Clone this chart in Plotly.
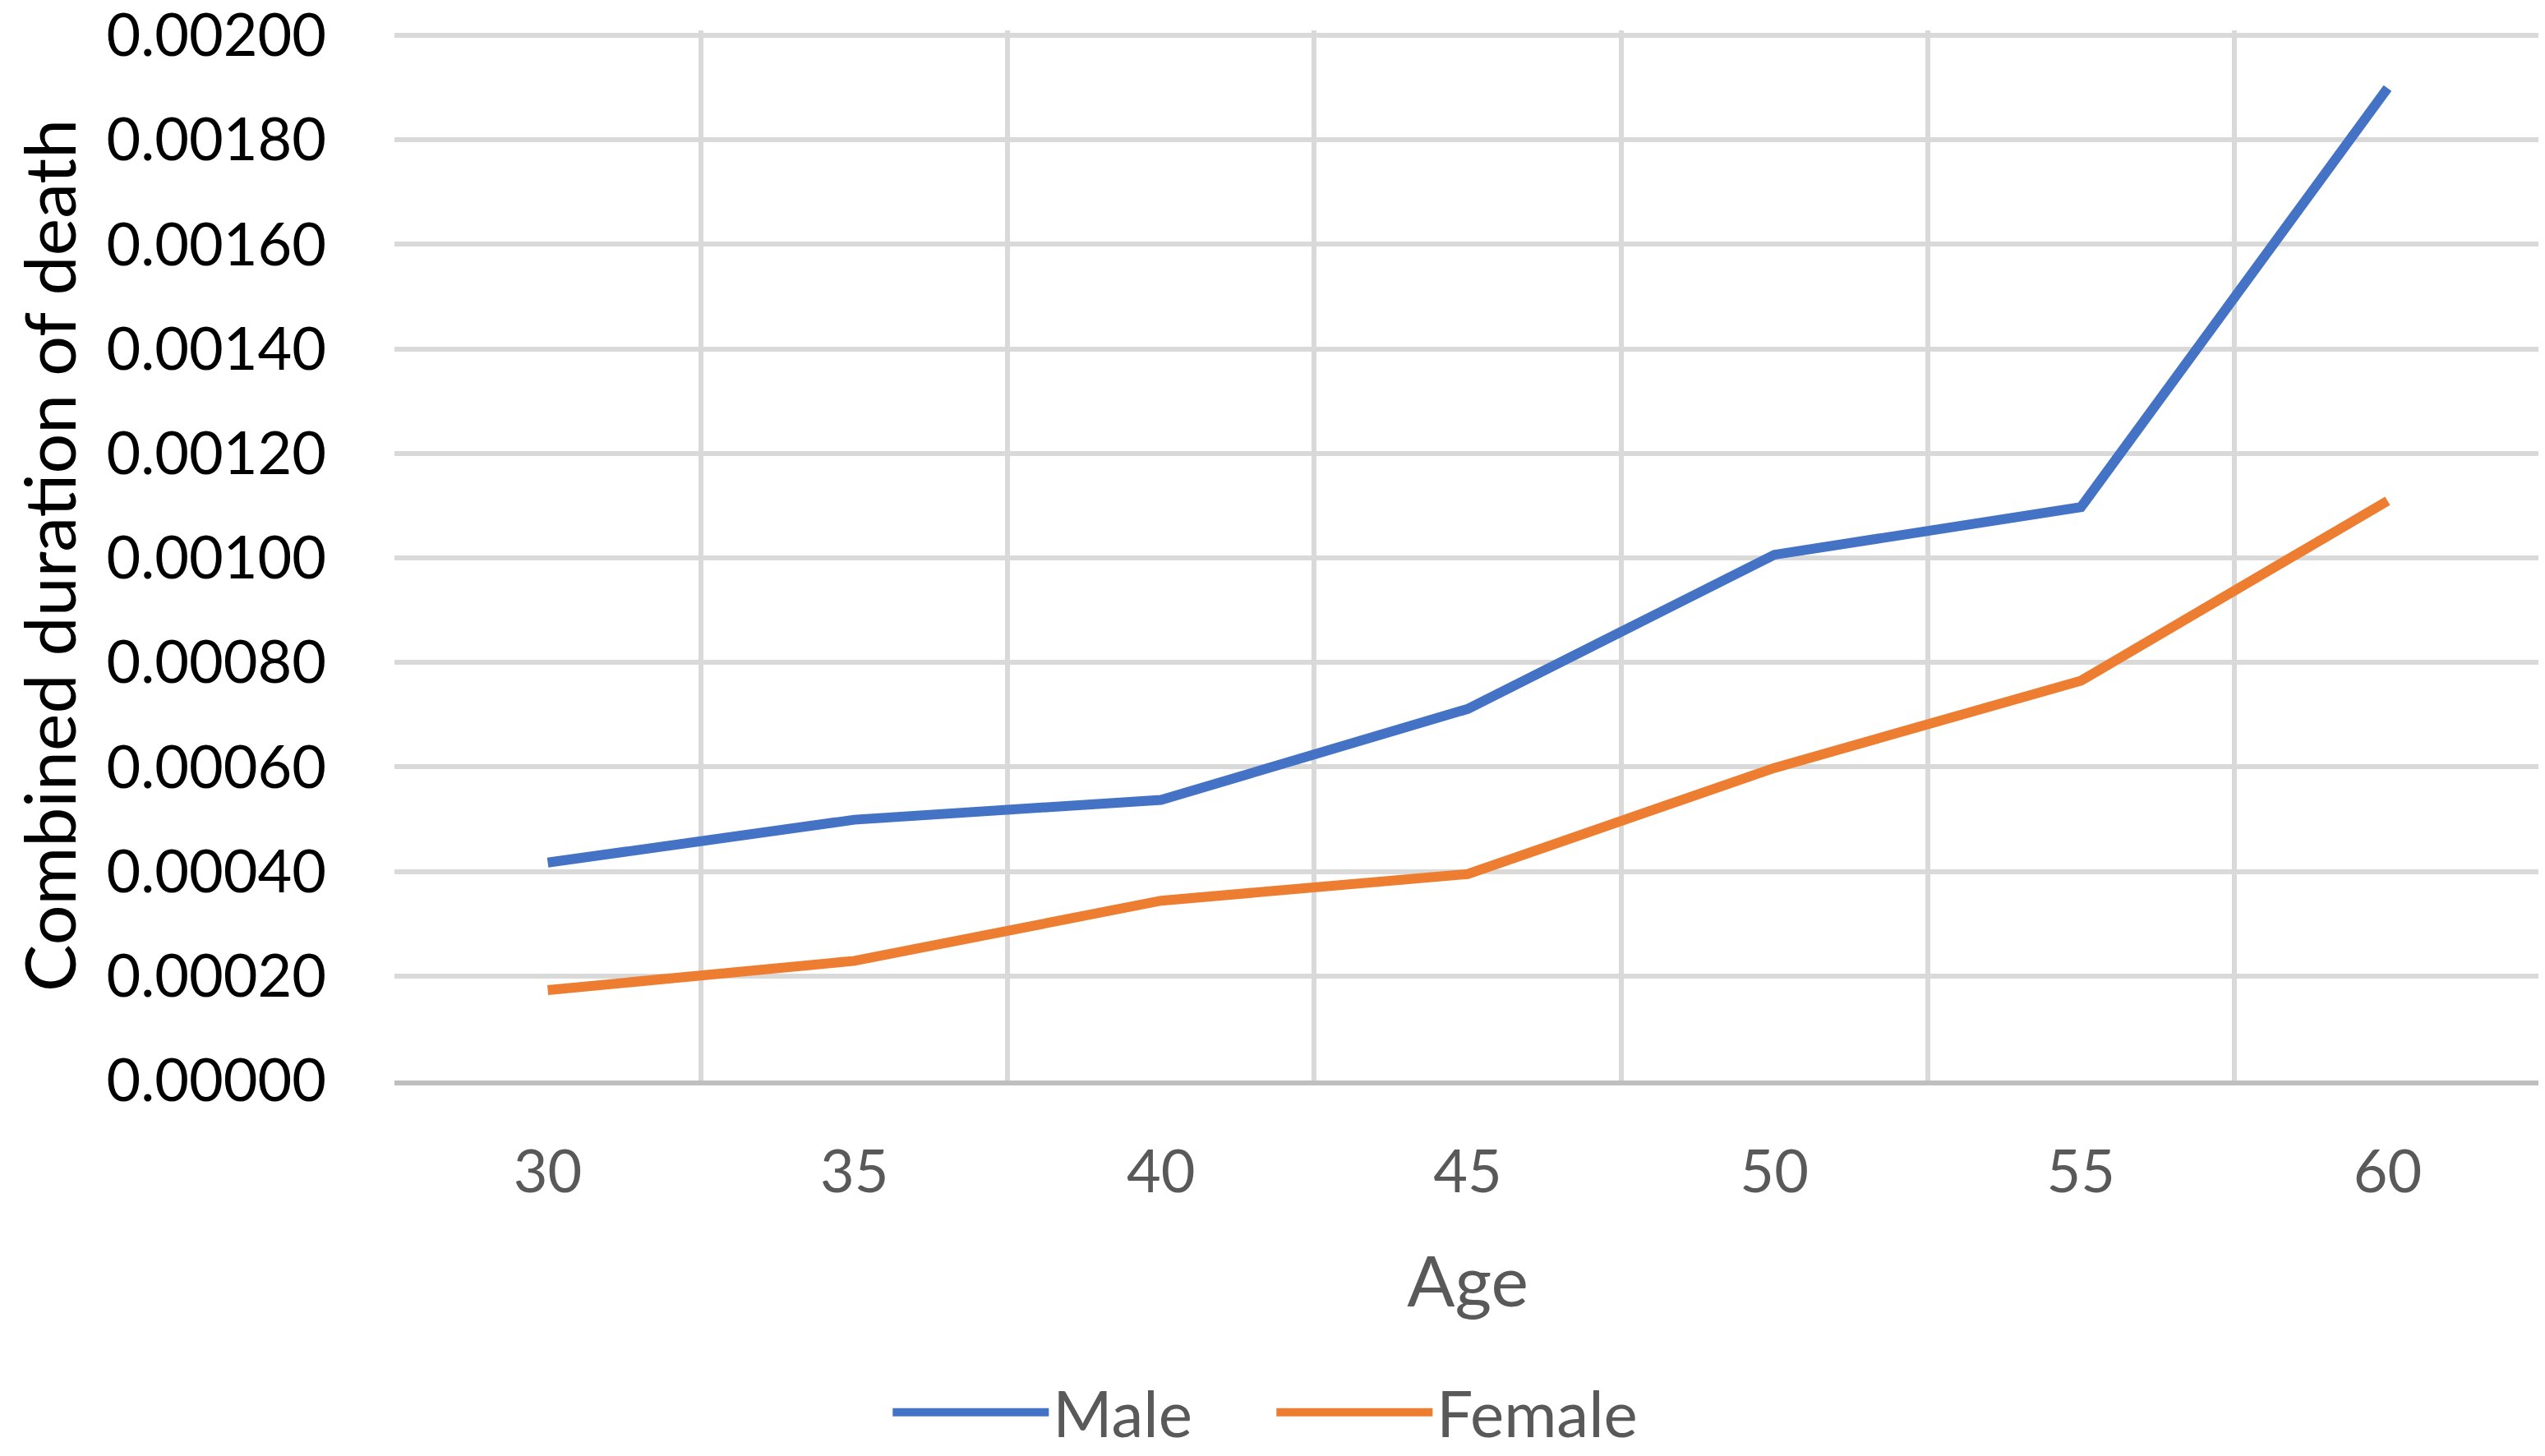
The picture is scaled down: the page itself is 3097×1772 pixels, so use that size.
import plotly.graph_objects as go

ages = ["30", "35", "40", "45", "50", "55", "60"]
male = [0.000417, 0.000499, 0.000537, 0.000711, 0.001006, 0.001097, 0.001899]
female = [0.000173, 0.000229, 0.000344, 0.000395, 0.000598, 0.000765, 0.001109]
y_ticks = [0.0, 0.0002, 0.0004, 0.0006, 0.0008, 0.0010, 0.0012, 0.0014, 0.0016, 0.0018, 0.0020]
y_tick_text = ["0.00000", "0.00020", "0.00040", "0.00060", "0.00080", "0.00100",
               "0.00120", "0.00140", "0.00160", "0.00180", "0.00200"]

FONT = "Lato"
fig = go.Figure()
fig.add_trace(go.Scatter(x=ages, y=male, mode="lines", name="Male",
                         line=dict(color="#4472C4", width=12)))
fig.add_trace(go.Scatter(x=ages, y=female, mode="lines", name="Female",
                         line=dict(color="#ED7D31", width=12)))

fig.update_layout(
    width=3089, height=1764,
    margin=dict(l=472, r=5, t=29, b=457, autoexpand=False),
    paper_bgcolor="white", plot_bgcolor="white",
    font=dict(family=FONT, color="#595959"),
    showlegend=True,
    legend=dict(orientation="h", x=0.409, xanchor="center", y=-0.3162, yanchor="middle",
                font=dict(size=78, color="#595959"), itemwidth=190,
                entrywidth=262, entrywidthmode="pixels"),
    xaxis=dict(type="category", categoryorder="array", categoryarray=ages,
               range=[-0.5, 6.5], tickson="boundaries", ticks="", automargin=False,
               showgrid=True, gridcolor="#D9D9D9", gridwidth=6,
               showline=True, linecolor="#BFBFBF", linewidth=6,
               tickfont=dict(size=72, color="#595959", family=FONT),
               ticklabelstandoff=44,
               title=dict(text="Age", font=dict(size=86, color="#595959", family=FONT), standoff=66)),
    yaxis=dict(range=[0, 0.0020094], tickmode="array", tickvals=y_ticks, ticktext=y_tick_text,
               showgrid=True, gridcolor="#D9D9D9", gridwidth=6, zeroline=False,
               showline=False, ticks="", ticklabeloverflow="allow", automargin=False,
               tickfont=dict(size=72, color="black", family=FONT),
               ticklabelstandoff=82),
    annotations=[dict(text="Combined duration of death", xref="paper", yref="paper",
                      x=-0.1616, y=0.5, xanchor="center", yanchor="middle",
                      textangle=-90, showarrow=False,
                      font=dict(size=86, color="black", family=FONT))],
)

fig.write_html("out.html")
